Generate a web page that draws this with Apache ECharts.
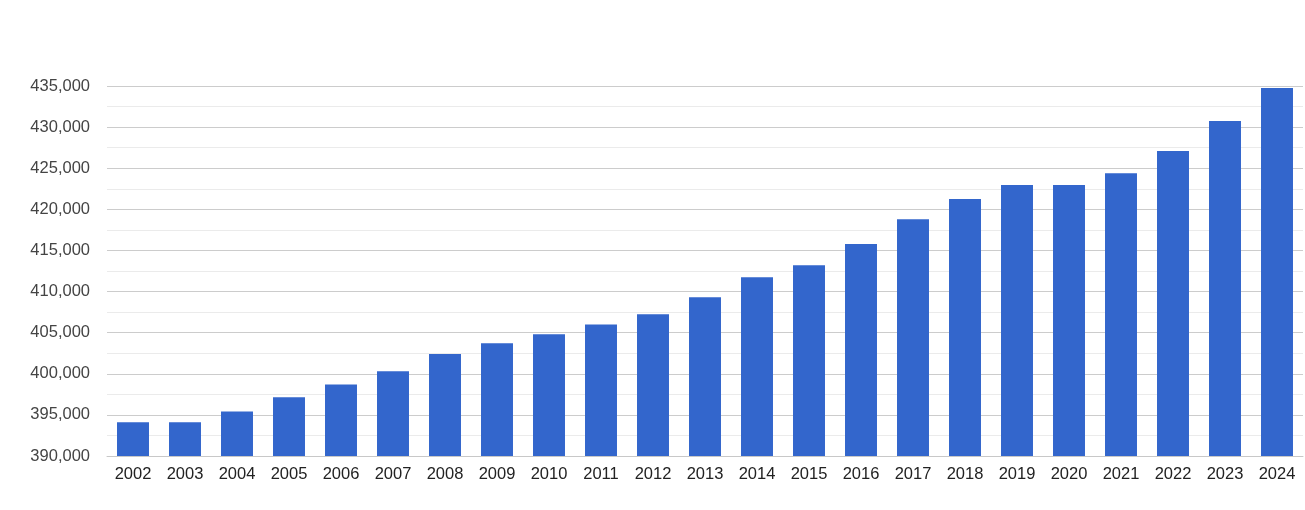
<!DOCTYPE html>
<html>
<head>
<meta charset="utf-8">
<script src="https://cdn.jsdelivr.net/npm/echarts@6/dist/echarts.min.js"></script>
<style>
html,body{margin:0;padding:0;background:#fff;}
#chart{width:1305px;height:510px;}
</style>
</head>
<body>
<div id="chart"></div>
<script>
const years = ['2002','2003','2004','2005','2006','2007','2008','2009','2010','2011','2012','2013','2014','2015','2016','2017','2018','2019','2020','2021','2022','2023','2024'];
const population = [394100,394100,395400,397150,398700,400300,402400,403700,404800,406000,407250,409300,411750,413200,415770,418800,421250,422950,422950,424400,427100,430750,434760];
const yMin = 390000;
const yMax = 435000;
const yStep = 5000;

const chart = echarts.init(document.getElementById('chart'), null, {renderer:'canvas'});
chart.setOption({
  animation:false,
  grid:{left:107,right:2,top:86,bottom:54,containLabel:false},
  xAxis:{
    type:'category',
    data:years,
    axisTick:{show:false},
    axisLine:{show:true,lineStyle:{color:'#c8c8c8',width:1}},
    axisLabel:{color:'#222',fontSize:16.5,fontFamily:'Liberation Sans, Arial, sans-serif',margin:10,interval:0}
  },
  yAxis:{
    type:'value',
    min:yMin,max:yMax,interval:yStep,
    axisLine:{show:false},
    axisTick:{show:false},
    axisLabel:{color:'#444',fontSize:16.5,fontFamily:'Liberation Sans, Arial, sans-serif',margin:17,
      formatter:v=>v.toLocaleString('en-US')},
    splitLine:{show:true,lineStyle:{color:'#cccccc',width:1}},
    minorTick:{show:false,splitNumber:2},
    minorSplitLine:{show:true,lineStyle:{color:'#ebebeb',width:1}}
  },
  series:[{
    type:'bar',
    data:population,
    barCategoryGap:'38.5%',
    itemStyle:{color:'#3366cc'}
  }]
});
</script>
</body>
</html>
